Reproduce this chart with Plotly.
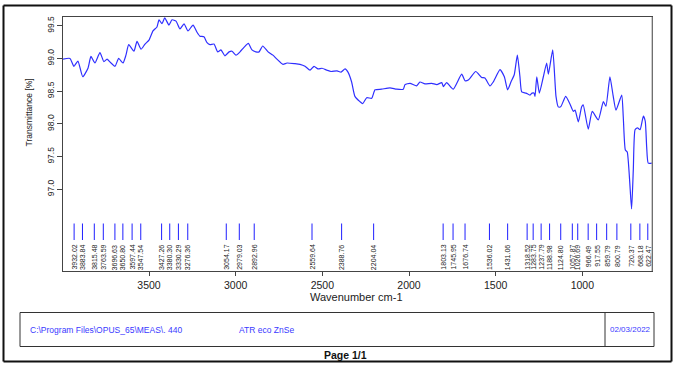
import plotly.graph_objects as go

# ---------------- data ----------------
wavenumber = [3996, 3956, 3933, 3910, 3882, 3852, 3835, 3812, 3783, 3760, 3742, 3719, 3696, 3675, 3650, 3633,
              3617, 3587, 3569, 3546, 3523, 3500, 3477, 3454, 3442, 3425, 3409, 3385, 3367, 3344, 3321, 3298,
              3275, 3246, 3223, 3206, 3183, 3165, 3148, 3125, 3104, 3085, 3062, 3038, 3021, 2998, 2975, 2952,
              2927, 2906, 2883, 2865, 2844, 2813, 2785, 2762, 2727, 2704, 2658, 2629, 2600, 2571, 2548, 2525,
              2502, 2473, 2450, 2415, 2392, 2369, 2352, 2331, 2312, 2283, 2267, 2244, 2215, 2196, 2158, 2110,
              2071, 2033, 2023, 1994, 1956, 1937, 1908, 1869, 1839, 1811, 1802, 1783, 1745, 1696, 1677, 1658,
              1615, 1581, 1562, 1533, 1514, 1475, 1450, 1431, 1412, 1393, 1375, 1360, 1350, 1325, 1302, 1290,
              1279, 1273, 1263, 1248, 1225, 1206, 1196, 1171, 1152, 1139, 1125, 1096, 1071, 1052, 1042, 1023,
              1004, 995, 966, 943, 908, 879, 864, 841, 823, 806, 773, 764, 752, 741, 716, 706,
              696, 682, 667, 648, 637, 629, 620, 598]
transmittance = [98.99, 99.00, 98.88, 98.96, 98.72, 98.85, 99.03, 98.93, 99.09, 98.95, 98.99, 98.93, 98.88, 99.00, 98.93, 99.05,
                 99.21, 99.11, 99.26, 99.14, 99.22, 99.28, 99.42, 99.48, 99.59, 99.53, 99.62, 99.51, 99.59, 99.57, 99.45, 99.53,
                 99.42, 99.51, 99.40, 99.34, 99.33, 99.24, 99.21, 99.22, 99.10, 99.13, 99.04, 99.10, 99.11, 99.05, 99.10, 99.17,
                 99.23, 99.13, 99.10, 99.10, 99.19, 99.10, 99.05, 98.99, 98.91, 98.93, 98.92, 98.91, 98.88, 98.82, 98.88, 98.84,
                 98.85, 98.82, 98.80, 98.81, 98.79, 98.84, 98.79, 98.64, 98.42, 98.34, 98.31, 98.40, 98.39, 98.52, 98.53, 98.55,
                 98.53, 98.53, 98.60, 98.62, 98.58, 98.64, 98.61, 98.62, 98.60, 98.63, 98.57, 98.63, 98.53, 98.76, 98.66, 98.67,
                 98.80, 98.71, 98.70, 98.58, 98.64, 98.83, 98.72, 98.52, 98.64, 98.75, 99.05, 98.72, 98.49, 98.47, 98.44, 98.47,
                 98.47, 98.42, 98.72, 98.47, 98.72, 98.93, 98.76, 99.13, 98.42, 98.26, 98.26, 98.42, 98.30, 98.19, 98.21, 98.03,
                 98.26, 98.29, 97.92, 98.19, 98.06, 98.34, 98.27, 98.72, 98.44, 98.21, 98.44, 98.11, 97.60, 97.57, 96.70, 97.30,
                 97.91, 97.94, 97.91, 98.12, 98.04, 97.65, 97.40, 97.40]

peak_positions = [3932.02, 3883.84, 3815.48, 3763.59, 3696.63, 3650.80, 3597.44, 3547.54, 3427.26, 3380.30,
                  3330.29, 3276.36, 3054.17, 2979.03, 2892.96, 2559.64, 2388.76, 2204.04, 1803.13, 1745.95,
                  1676.74, 1536.02, 1431.06, 1318.52, 1283.75, 1237.79, 1188.98, 1124.80, 1057.87, 1026.69,
                  966.49, 917.55, 859.79, 800.79, 720.37, 668.18, 622.47]
peak_labels = ["%.2f" % p for p in peak_positions]

x_ticks = [1000, 1500, 2000, 2500, 3000, 3500]
y_ticks = [97.0, 97.5, 98.0, 98.5, 99.0, 99.5]

footer_path = "C:\\Program Files\\OPUS_65\\MEAS\\. 440"
footer_method = "ATR eco ZnSe"
footer_date = "02/03/2022"
page_text = "Page 1/1"

# ---------------- layout helpers ----------------
W, H = 676, 367
L, R, T, B = 63, 24, 17, 96
PW, PH = W - L - R, H - T - B


def px(xp):
    return (xp - L) / PW


def py(yp):
    return (H - B - yp) / PH


FONT = "Arial, Liberation Sans, sans-serif"
BLUE = "#2f2fff"

fig = go.Figure()
fig.add_trace(go.Scatter(x=wavenumber, y=transmittance, mode="lines",
                         line=dict(color=BLUE, width=1.2, shape="spline", smoothing=0.5),
                         hoverinfo="x+y", showlegend=False))

shapes = []
annotations = []
for p, lab in zip(peak_positions, peak_labels):
    shapes.append(dict(type="line", xref="x", yref="paper", x0=p, x1=p,
                       y0=py(223.5), y1=py(240), line=dict(color="#1f1fff", width=1)))
    annotations.append(dict(x=p, xref="x", y=py(243), yref="paper", text=lab, showarrow=False,
                            textangle=-90, xanchor="center", yanchor="top",
                            font=dict(family=FONT, size=7, color="#222")))

# page border (four edges)
bx0, bx1, by0, by1 = px(3.5), px(671.5), py(361.5), py(5.5)
for (xa, ya, xb, yb) in [(bx0, by0, bx1, by0), (bx0, by1, bx1, by1), (bx0, by0, bx0, by1), (bx1, by0, bx1, by1)]:
    shapes.append(dict(type="line", xref="paper", yref="paper", x0=xa, y0=ya, x1=xb, y1=yb,
                       line=dict(color="#111", width=2), layer="above"))
# plot frame right edge in grey
shapes.append(dict(type="line", xref="paper", yref="paper", x0=1, x1=1, y0=0, y1=1,
                   line=dict(color="#999", width=1), layer="above"))
# footer box
shapes.append(dict(type="rect", xref="paper", yref="paper", x0=px(20), x1=px(654),
                   y0=py(346.5), y1=py(312.5), line=dict(color="#333", width=1)))
shapes.append(dict(type="line", xref="paper", yref="paper", x0=px(605), x1=px(605),
                   y0=py(346.5), y1=py(312.5), line=dict(color="#333", width=1)))

annotations += [
    dict(x=px(28), y=py(329.5), xref="paper", yref="paper", text=footer_path, showarrow=False,
         xanchor="left", yanchor="middle", font=dict(family=FONT, size=8.5, color="#3a3aff")),
    dict(x=px(236.5), y=py(329.5), xref="paper", yref="paper", text=footer_method, showarrow=False,
         xanchor="left", yanchor="middle", font=dict(family=FONT, size=8.5, color="#3a3aff")),
    dict(x=px(630), y=py(329.5), xref="paper", yref="paper", text=footer_date, showarrow=False,
         xanchor="center", yanchor="middle", font=dict(family=FONT, size=8, color="#3a3aff")),
    dict(x=px(345), y=py(354.5), xref="paper", yref="paper", text="<b>" + page_text + "</b>", showarrow=False,
         xanchor="center", yanchor="middle", font=dict(family=FONT, size=10.5, color="#111")),
    dict(x=px(356), y=py(296.5), xref="paper", yref="paper", text="Wavenumber cm-1", showarrow=False,
         xanchor="center", yanchor="middle", font=dict(family=FONT, size=11, color="#222")),
    dict(x=px(28), y=py(112.5), xref="paper", yref="paper", text="Transmittance [%]", showarrow=False,
         textangle=-90, xanchor="center", yanchor="middle", font=dict(family=FONT, size=8.5, color="#222")),
]

fig.update_layout(
    width=W, height=H,
    margin=dict(l=L, r=R, t=T, b=B, pad=0),
    paper_bgcolor="white", plot_bgcolor="white",
    shapes=shapes, annotations=annotations,
    xaxis=dict(range=[3996.1, 598.2], tickvals=x_ticks, ticktext=[str(v) for v in x_ticks],
               showgrid=False, zeroline=False, showline=True, mirror=True, linecolor="#444", linewidth=1,
               ticks="outside", ticklen=4, tickcolor="#444",
               tickfont=dict(family=FONT, size=10.5, color="#222")),
    yaxis=dict(range=[95.752, 99.633], tickvals=y_ticks, ticktext=["%.1f" % v for v in y_ticks],
               showgrid=False, zeroline=False, showline=True, mirror=True, linecolor="#444", linewidth=1,
               ticks="outside", ticklen=5, tickcolor="#444", tickangle=-90,
               tickfont=dict(family=FONT, size=8.5, color="#222")),
    showlegend=False,
)

fig.write_html("out.html", config={"displayModeBar": False},
               post_script="document.body.style.margin='0';document.body.style.overflow='hidden';")
